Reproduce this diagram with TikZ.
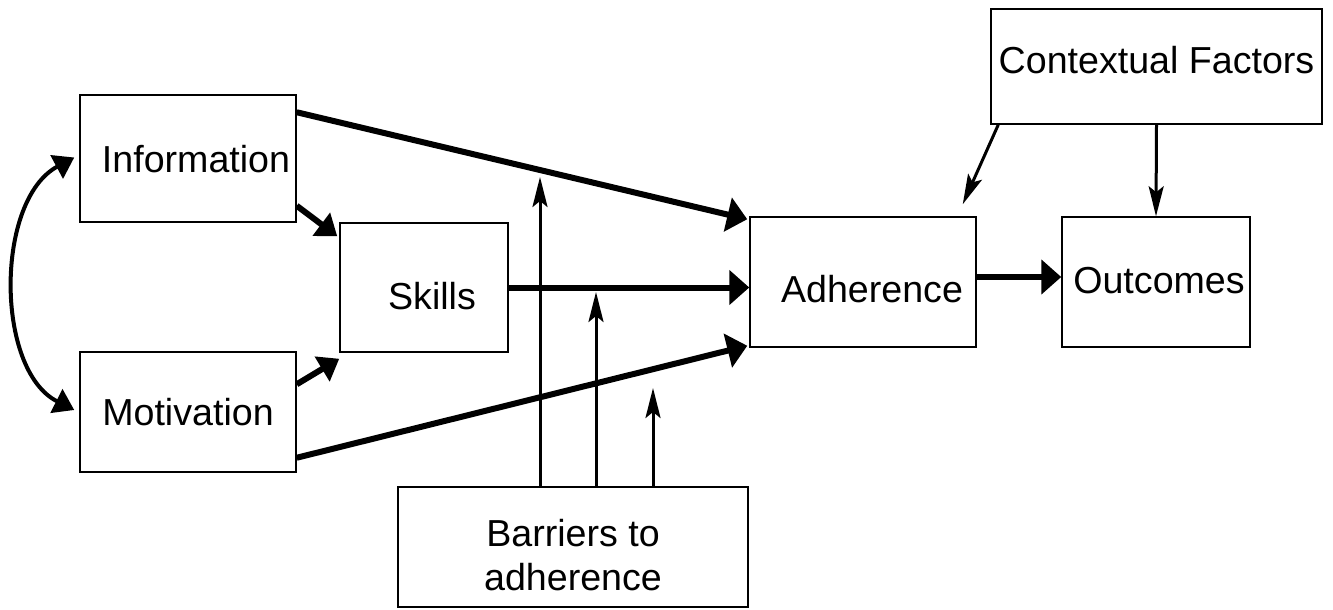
\documentclass[tikz,border=0pt]{standalone}
\usepackage{fontspec}
\setmainfont{Liberation Sans}
\usetikzlibrary{arrows.meta,calc}

\begin{document}
\begin{tikzpicture}[
    x=0.5pt, y=-0.5pt,
    box/.style={rectangle, draw, line width=0.75pt, inner sep=0pt, align=center, text height=13.5pt, text depth=0pt, font=\fontsize{18.8}{22}\selectfont},
    mainarr/.style={line width=3pt, -{Triangle[length=10pt,width=17pt]}},
    midarr/.style={line width=3pt, -{Triangle[length=10pt,width=14pt]}},
    thinarr/.style={line width=1.5pt, -{Stealth[length=15pt,width=7.5pt,inset=3pt]}},
    dblarr/.style={line width=2pt, {Triangle[length=10pt,width=13pt]}-{Triangle[length=10pt,width=13pt]}}
  ]
    \useasboundingbox (0,0) rectangle (1333,610);

    \node[box, minimum width=108pt, minimum height=63.5pt] (info) at (188,158.5) {\hspace*{8pt}Information};
    \node[box, minimum width=108pt, minimum height=60pt] (mot) at (188,412) {Motivation};
    \node[box, minimum width=84pt, minimum height=64.5pt, text height=21.5pt] (skills) at (424,287.5) {\hspace*{8pt}Skills};
    \node[box, minimum width=113pt, minimum height=65pt, text height=20.5pt] (adh) at (863,282) {\hspace*{9pt}Adherence};
    \node[box, minimum width=94pt, minimum height=65pt, text depth=2pt] (out) at (1156,282) {\hspace*{3pt}Outcomes};
    \node[box, minimum width=165.5pt, minimum height=57.5pt, text depth=6.5pt] (ctx) at (1156.5,66.5) {Contextual Factors};
    \node[box, minimum width=175pt, minimum height=60pt, text height=43.7pt] (bar) at (573,547) {Barriers to\\adherence};

    \coordinate (b1) at (540,177);
    \coordinate (b2) at (596,292);
    \coordinate (b3) at (653,388);

    % information and motivation
    \draw[dblarr] ($(info.west)+(-5,-1)$) .. controls (-5,200) and (-5,370) .. ($(mot.west)+(-5,-2)$);
    \draw[midarr] ($(info.south east)+(0,-17)$) -- ($(skills.north west)+(-2,14)$);
    \draw[midarr] ($(mot.north east)+(0,33)$) -- ($(skills.south west)+(0,6)$);

    % into adherence
    \draw[mainarr] ($(info.north east)+(0,18)$) -- ($(adh.north west)+(-2,3)$);
    \draw[mainarr] (skills.east) -- (skills.east -| adh.west);
    \draw[mainarr] ($(mot.south east)+(0,-15)$) -- ($(adh.south west)+(-2,-2)$);
    \draw[mainarr] ($(adh.east)+(0,-5)$) -- ($(out.west)+(0,-5)$);

    % context
    \draw[thinarr] ($(ctx.south west)+(8,0)$) -- ($(adh.north east)+(-14,-12)$);
    \draw[thinarr] (ctx.south) -- (out.north);

    % barriers
    \draw[thinarr] (b1 |- bar.north) -- (b1);
    \draw[thinarr] (b2 |- bar.north) -- (b2);
    \draw[thinarr] (b3 |- bar.north) -- (b3);
  \end{tikzpicture}
\end{document}
